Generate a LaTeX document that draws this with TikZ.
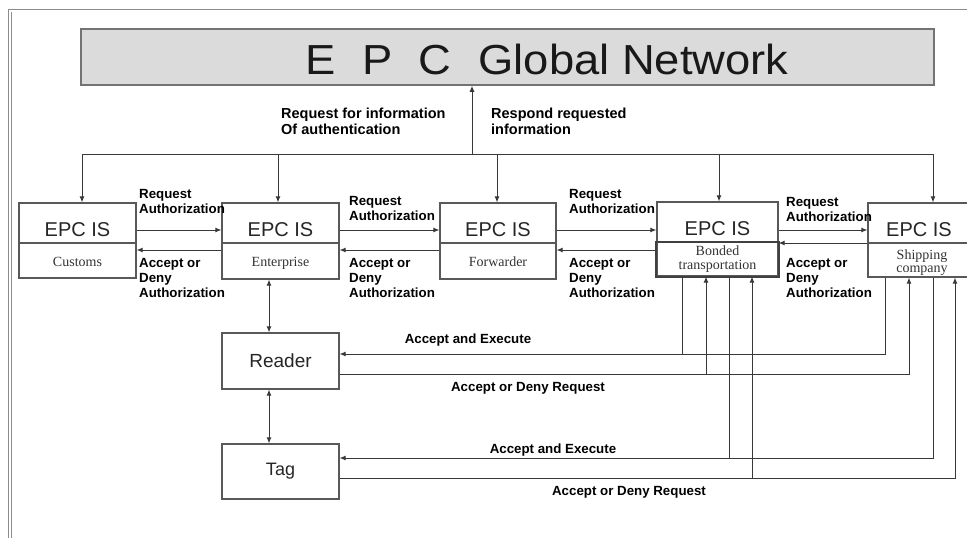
\documentclass[tikz,border=0pt]{standalone}
\usepackage{fontspec}
\setmainfont{Liberation Sans}
\newfontfamily\serifl{Liberation Serif}
\newfontfamily\titlef[FakeStretch=1.08]{Liberation Sans}
\usetikzlibrary{arrows.meta}
\begin{document}
\begin{tikzpicture}[x=1pt,y=-1pt,
  line/.style={draw=black!78, line width=1pt},
  arr/.style={line, -{Latex[length=6pt,width=5pt]}},
  darr/.style={line, {Latex[length=6pt,width=5pt]}-{Latex[length=6pt,width=5pt]}},
  isbox/.style={draw=black!65, line width=1.2pt, minimum width=117pt, minimum height=75pt, inner sep=0pt},
  epc/.style={font=\fontsize{20}{24}\selectfont, anchor=base, inner sep=0pt, text=black!85},
  sub/.style={font=\serifl\fontsize{14}{14}\selectfont, align=center, inner sep=0pt, text=black!80},
  lbl/.style={font=\bfseries\fontsize{13.3}{15}\selectfont, align=left, anchor=north west, inner sep=0pt},
  blbl/.style={font=\bfseries\fontsize{13.3}{15}\selectfont, inner sep=0pt},
  toplbl/.style={font=\bfseries\fontsize{14.5}{16}\selectfont, align=left, anchor=north west, inner sep=0pt},
  frame/.style={draw=black!45, line width=0.9pt}
  ]
\useasboundingbox (0,0) rectangle (967,538);
\clip (0,0) rectangle (967,538);
\fill[white] (0,0) rectangle (967,538);
% frame
\draw[frame] (8,538) -- (8,9) -- (967,9);
\draw[frame] (11,538) -- (11,12);

% global network
\node[draw=black!55, fill=black!14, line width=1.5pt, minimum width=853pt, minimum height=56pt, inner sep=0pt] (gn) at (507.5,57) {};
\node[anchor=base west, inner sep=0pt, text=black!90, font=\titlef\fontsize{42}{48}\selectfont] (title) at (305,74) {E\hspace{27pt}P\hspace{26pt}C\hspace{27pt}Global Network};

% EPC IS boxes
\node[isbox] (customs) at (77.5,240.5) {};
\node[isbox, minimum height=76pt] (enterprise) at (280.5,241) {};
\node[isbox, minimum width=116pt, minimum height=76pt] (forwarder) at (498,241) {};
\node[isbox, minimum width=121pt, minimum height=74pt] (bonded) at (717.5,239) {};
\node[isbox, minimum width=102pt, minimum height=74pt] (shipping) at (919,240) {};

\draw[draw=black!65, line width=1.2pt] (customs.west |- 0,243) -- (customs.east |- 0,243);
\draw[draw=black!65, line width=1.2pt] (enterprise.west |- 0,243) -- (enterprise.east |- 0,243);
\draw[draw=black!65, line width=1.2pt] (forwarder.west |- 0,243) -- (forwarder.east |- 0,243);
\draw[draw=black!65, line width=1.2pt] (shipping.west |- 0,243) -- (shipping.east |- 0,243);
\draw[draw=black!75, line width=1.9pt] (bonded.west |- 0,242) rectangle (bonded.south east);

\node[epc] (t1) at (77.5,236) {EPC IS};
\node[epc] (t2) at (280.5,236) {EPC IS};
\node[epc] (t3) at (498,236) {EPC IS};
\node[epc] (t4) at (717.5,235) {EPC IS};
\node[epc] (t5) at (919,236) {EPC IS};

\node[sub, anchor=base] (s1) at (77.5,266.5) {Customs};
\node[sub, anchor=base] (s2) at (280.5,266.5) {Enterprise};
\node[sub, anchor=base] (s3) at (498,266.5) {Forwarder};
\node[sub, anchor=north] (s4) at (717.5,246) {Bonded\\transportation};
\node[sub, anchor=north, font=\serifl\fontsize{14}{13}\selectfont] (s5) at (922,250) {Shipping\\company};

% reader, tag
\node[isbox, minimum height=56pt] (reader) at (280.5,361) {};
\node[font=\fontsize{19}{22}\selectfont, text=black!85] (rtext) at (280.5,361) {Reader};
\node[isbox, minimum height=55pt] (tag) at (280.5,471.5) {};
\node[font=\fontsize{18}{22}\selectfont, text=black!85] (ttext) at (280.5,471.5) {Tag};

% bus
\coordinate (bL) at (82,154);
\coordinate (bR) at (933,154);
\coordinate (bM) at (472,154);
\coordinate (b2) at (278,154);
\coordinate (b3) at (497,154);
\coordinate (b4) at (719,154);
\draw[line] (bL) -- (bR);
\draw[arr] (bM) -- (bM |- gn.south);
\draw[arr] (bL) -- (bL |- customs.north);
\draw[arr] (b2) -- (b2 |- enterprise.north);
\draw[arr] (b3) -- (b3 |- forwarder.north);
\draw[arr] (b4) -- (b4 |- bonded.north);
\draw[arr] (bR) -- (bR |- shipping.north);

\node[toplbl] (q1) at (281,107.5) {Request for information\\Of authentication};
\node[toplbl] (q2) at (491,107.5) {Respond requested\\information};

% horizontal authorization arrows
\coordinate (yr) at (0,230);
\coordinate (ya) at (0,250);
\coordinate (yb) at (0,243);
\draw[arr] (customs.east |- yr) -- (enterprise.west |- yr);
\draw[arr] (enterprise.west |- ya) -- (customs.east |- ya);
\draw[arr] (enterprise.east |- yr) -- (forwarder.west |- yr);
\draw[arr] (forwarder.west |- ya) -- (enterprise.east |- ya);
\draw[arr] (forwarder.east |- yr) -- (bonded.west |- yr);
\draw[arr] (bonded.west |- ya) -- (forwarder.east |- ya);
\draw[arr] (bonded.east |- yr) -- (shipping.west |- yr);
\draw[arr] (shipping.west |- yb) -- (bonded.east |- yb);

\node[lbl] (r1) at (139,189) {Request\\Authorization};
\node[lbl] (r2) at (349,196) {Request\\Authorization};
\node[lbl] (r3) at (569,189) {Request\\Authorization};
\node[lbl] (r4) at (786,197) {Request\\Authorization};
\node[lbl] (a1) at (139,258) {Accept or\\Deny\\Authorization};
\node[lbl] (a2) at (349,258) {Accept or\\Deny\\Authorization};
\node[lbl] (a3) at (569,258) {Accept or\\Deny\\Authorization};
\node[lbl] (a4) at (786,258) {Accept or\\Deny\\Authorization};

% enterprise - reader - tag
\coordinate (er) at (269,0);
\draw[darr] (enterprise.south -| er) -- (reader.north -| er);
\draw[darr] (reader.south -| er) -- (tag.north -| er);

% reader / tag connections
\coordinate (v1) at (682,354);
\coordinate (v2) at (706,374);
\coordinate (v3) at (729,458);
\coordinate (v4) at (752,478);
\coordinate (w1) at (885,354);
\coordinate (w2) at (909,374);
\coordinate (w3) at (933,458);
\coordinate (w4) at (955,478);
\draw[line] (bonded.south -| v1) -- (v1);
\draw[arr] (shipping.south -| w1) -- (w1) -- (reader.east |- w1);
\draw[arr] (reader.east |- w2) -- (w2) -- (shipping.south -| w2);
\draw[arr] (v2) -- (bonded.south -| v2);
\draw[line] (bonded.south -| v3) -- (v3);
\draw[arr] (shipping.south -| w3) -- (w3) -- (tag.east |- w3);
\draw[arr] (tag.east |- w4) -- (w4) -- (shipping.south -| w4);
\draw[arr] (v4) -- (bonded.south -| v4);

\node[blbl] (e1) at (468,340) {Accept and Execute};
\node[blbl] (e2) at (528,388) {Accept or Deny Request};
\node[blbl] (e3) at (553,450) {Accept and Execute};
\node[blbl] (e4) at (629,492) {Accept or Deny Request};
\end{tikzpicture}
\end{document}
